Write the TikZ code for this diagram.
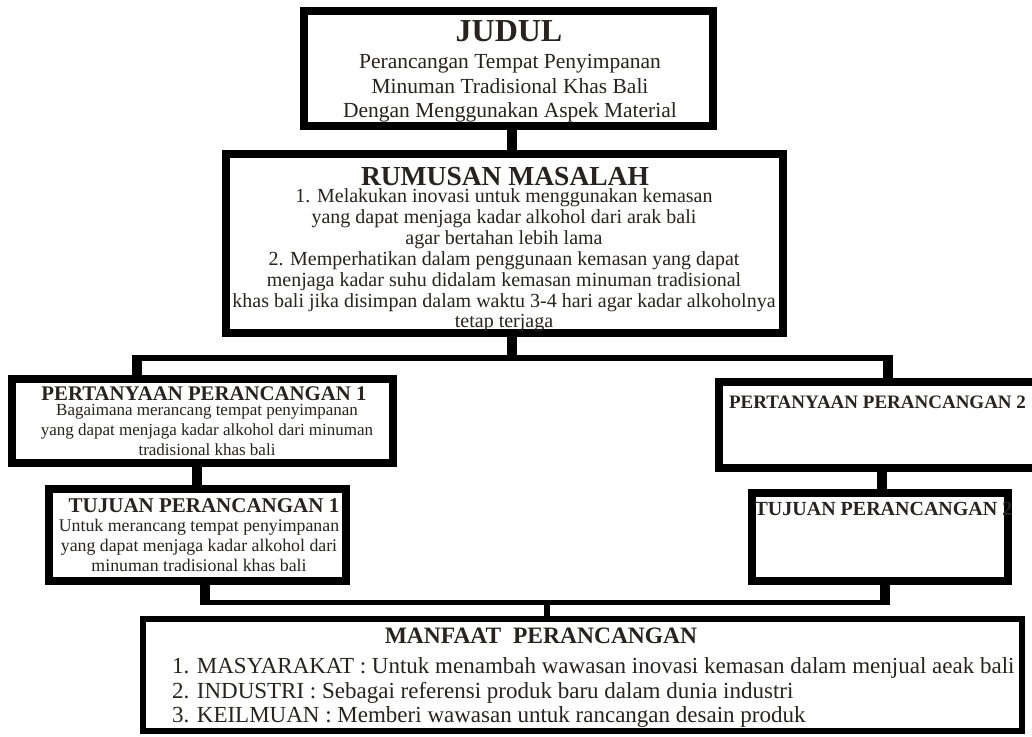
\documentclass[tikz,border=0pt]{standalone}
\usepackage{fontspec}
\setmainfont{Liberation Serif}
\usetikzlibrary{calc}
\definecolor{txt}{RGB}{40,34,32}
\begin{document}
\begin{tikzpicture}[x=1pt,y=-1pt]
\tikzset{
  boxA/.style={draw=black, line width=8pt, inner sep=0pt, outer sep=0pt},
  boxB/.style={draw=black, line width=6pt, inner sep=0pt, outer sep=0pt},
  conn/.style={draw=black, line width=10pt},
  bar/.style={draw=black, line width=6pt},
  lowbar/.style={draw=black, line width=5pt},
  thinconn/.style={draw=black, line width=6pt},
  tl/.style={anchor=base, inner sep=0pt, outer sep=0pt, text=txt},
  ttl/.style={tl, text depth=0pt, font=\bfseries},
  tll/.style={anchor=base west, inner sep=0pt, outer sep=0pt, text=txt},
}
\useasboundingbox (0,0) rectangle (1032,736);
\fill[white] (0,0) rectangle (1032,736);

% boxes
\node[boxA, minimum width=409pt, minimum height=115pt] (judul) at (508.5,68.5) {};
\node[boxA, minimum width=557pt, minimum height=179pt] (rumusan) at (504.5,243.5) {};
\node[boxA, minimum width=381pt, minimum height=84pt] (p1) at (202.5,421) {};
\node[boxA, minimum width=297pt, minimum height=92pt] (t1) at (197.5,535) {};
\node[boxA, minimum width=317pt, minimum height=86pt] (p2) at (877.5,425) {};
\node[boxA, minimum width=256pt, minimum height=88pt] (t2) at (880,537) {};
\node[boxB, minimum width=879pt, minimum height=112pt] (manfaat) at (582.5,675) {};

% connector coordinates
\coordinate (xMain) at (512,0);
\coordinate (barL) at (137,358);
\coordinate (barR) at (888,358);
\coordinate (barLe) at (132,358);
\coordinate (barRe) at (893,358);
\coordinate (x1) at (197,0);
\coordinate (x2) at (882,0);
\coordinate (botL) at (205,602.5);
\coordinate (botR) at (885,602.5);
\coordinate (botLe) at (200,602.5);
\coordinate (botRe) at (890,602.5);
\coordinate (xM) at (547,0);

\draw[conn] (judul.south -| xMain) -- (rumusan.north -| xMain);
\draw[conn] (rumusan.south -| xMain) -- (xMain |- barL);
\draw[bar] (barLe) -- (barRe);
\draw[conn] (p1.north -| barL) -- (barL);
\draw[conn] (p2.north -| barR) -- (barR);
\draw[conn] (p1.south -| x1) -- (t1.north -| x1);
\draw[conn] (p2.south -| x2) -- (t2.north -| x2);
\draw[conn] (t1.south -| botL) -- (botL);
\draw[conn] (t2.south -| botR) -- (botR);
\draw[lowbar] (botLe) -- (botRe);
\draw[thinconn] (xM |- botL) -- (manfaat.north -| xM);

% JUDUL
\node[ttl, font=\fontsize{32}{32}\selectfont\bfseries] (jt) at (509,41) {JUDUL};
\node[tl, font=\fontsize{21.5}{24}\selectfont] (j1) at (510,68) {Perancangan Tempat Penyimpanan};
\node[tl, font=\fontsize{21.5}{24}\selectfont] (j2) at (510,93) {Minuman Tradisional Khas Bali};
\node[tl, font=\fontsize{21.5}{24}\selectfont] (j3) at (510,117) {Dengan Menggunakan Aspek Material};

% RUMUSAN
\node[ttl, font=\fontsize{27.5}{28}\selectfont\bfseries] (rt) at (505,185) {RUMUSAN MASALAH};
\node[tl, font=\fontsize{20}{21}\selectfont] (r1) at (504,202) {1. Melakukan inovasi untuk menggunakan kemasan};
\node[tl, font=\fontsize{20}{21}\selectfont] (r2) at (504,223) {yang dapat menjaga kadar alkohol dari arak bali};
\node[tl, font=\fontsize{20}{21}\selectfont] (r3) at (504,244) {agar bertahan lebih lama};
\node[tl, font=\fontsize{20}{21}\selectfont] (r4) at (504,265) {2. Memperhatikan dalam penggunaan kemasan yang dapat};
\node[tl, font=\fontsize{20}{21}\selectfont] (r5) at (504,286) {menjaga kadar suhu didalam kemasan minuman tradisional};
\node[tl, font=\fontsize{20}{21}\selectfont] (r6) at (504,307) {khas bali jika disimpan dalam waktu 3-4 hari agar kadar alkoholnya};
\node[tl, font=\fontsize{20}{21}\selectfont] (r7) at (504,327) {tetap terjaga};

% P1
\node[ttl, font=\fontsize{20.8}{21}\selectfont\bfseries] (p1t) at (204,400) {PERTANYAAN PERANCANGAN 1};
\node[tl, font=\fontsize{17}{20}\selectfont] (p1a) at (207,415) {Bagaimana merancang tempat penyimpanan};
\node[tl, font=\fontsize{17}{20}\selectfont] (p1b) at (207,435) {yang dapat menjaga kadar alkohol dari minuman};
\node[tl, font=\fontsize{17}{20}\selectfont] (p1c) at (207,455) {tradisional khas bali};

% T1
\node[ttl, font=\fontsize{21}{21}\selectfont\bfseries] (t1t) at (204,512) {TUJUAN PERANCANGAN 1};
\node[tl, font=\fontsize{17.8}{20}\selectfont] (t1a) at (199,531) {Untuk merancang tempat penyimpanan};
\node[tl, font=\fontsize{17.8}{20}\selectfont] (t1b) at (199,551) {yang dapat menjaga kadar alkohol dari};
\node[tl, font=\fontsize{17.8}{20}\selectfont] (t1c) at (199,571) {minuman tradisional khas bali};

% P2, T2
\node[ttl, font=\fontsize{19}{19}\selectfont\bfseries] (p2t) at (877.5,408) {PERTANYAAN PERANCANGAN 2};
\node[ttl, font=\fontsize{20}{20}\selectfont\bfseries] (t2t) at (883.5,515) {TUJUAN PERANCANGAN 2};

% MANFAAT
\node[ttl, font=\fontsize{23.5}{24}\selectfont\bfseries] (mt) at (541,643) {MANFAAT\ \ PERANCANGAN};
\node[tll, font=\fontsize{23}{24}\selectfont] (m1) at (172,673) {1. MASYARAKAT : Untuk menambah wawasan inovasi kemasan dalam menjual aeak bali};
\node[tll, font=\fontsize{23}{24}\selectfont] (m2) at (172,698) {2. INDUSTRI : Sebagai referensi produk baru dalam dunia industri};
\node[tll, font=\fontsize{23}{24}\selectfont] (m3) at (172,722) {3. KEILMUAN : Memberi wawasan untuk rancangan desain produk};
\end{tikzpicture}
\end{document}
